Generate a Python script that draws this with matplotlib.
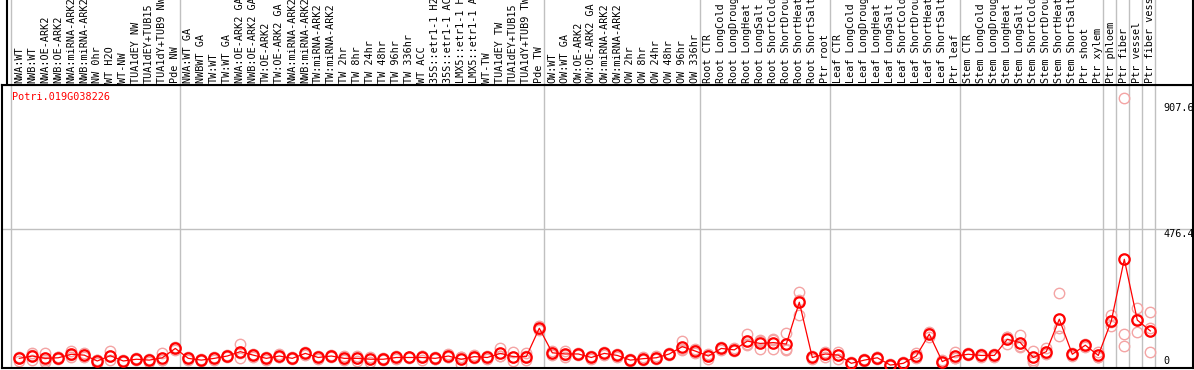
#!/usr/bin/env python3
# Perfil de expresion de Potri.019G038226 en 88 condiciones.

import numpy as np
import matplotlib
matplotlib.use("Agg")
import matplotlib.pyplot as plt

gene = "Potri.019G038226"

labels = [
    "NWA:WT", "NWB:WT", "NWA:OE-ARK2", "NWB:OE-ARK2", "NWA:miRNA-ARK2", "NWB:miRNA-ARK2",
    "NW 0hr", "WT H2O", "WT-NW", "TUA1dEY NW", "TUA1dEY+TUB15", "TUA1dY+TUB9 NW", "Pde NW",
    "NWA:WT GA", "NWBWT GA", "TW:WT", "TW:WT GA", "NWA:OE-ARK2 GA", "NWB:OE-ARK2 GA",
    "TW:OE-ARK2", "TW:OE-ARK2 GA", "NWA:miRNA-ARK2", "NWB:miRNA-ARK2", "TW:miRNA-ARK2",
    "TW:miRNA-ARK2", "TW 2hr", "TW 8hr", "TW 24hr", "TW 48hr", "TW 96hr", "TW 336hr",
    "WT ACC", "35S::etr1-1 H2", "35S::etr1-1 AC", "LMX5::etr1-1 H", "LMX5::etr1-1 A",
    "WT-TW", "TUA1dEY TW", "TUA1dEY+TUB15", "TUA1dY+TUB9 TW", "Pde TW",
    "OW:WT", "OW:WT GA", "OW:OE-ARK2", "OW:OE-ARK2 GA", "OW:miRNA-ARK2", "OW:miRNA-ARK2",
    "OW 2hr", "OW 8hr", "OW 24hr", "OW 48hr", "OW 96hr", "OW 336hr",
    "Root CTR", "Root LongCold", "Root LongDroug", "Root LongHeat", "Root LongSalt",
    "Root ShortCold", "Root ShortDrou", "Root ShortHeat", "Root ShortSalt", "Ptr root",
    "Leaf CTR", "Leaf LongCold", "Leaf LongDroug", "Leaf LongHeat", "Leaf LongSalt",
    "Leaf ShortCold", "Leaf ShortDrou", "Leaf ShortHeat", "Leaf ShortSalt", "Ptr leaf",
    "Stem CTR", "Stem LongCold", "Stem LongDroug", "Stem LongHeat", "Stem LongSalt",
    "Stem ShortCold", "Stem ShortDrou", "Stem ShortHeat", "Stem ShortSalt", "Ptr shoot",
    "Ptr xylem", "Ptr phloem", "Ptr fiber", "Ptr vessel", "Ptr fiber vess",
]
group_sizes = [13, 28, 12, 10, 10, 11, 1, 1, 1, 1]

means = [33, 41, 33, 35, 47, 44, 24, 42, 24, 30, 27, 35, 67,
         33, 27, 33, 41, 56, 44, 33, 41, 33, 50, 36, 41, 33, 33, 30, 30, 36, 36, 36, 33, 41,
         30, 39, 36, 50, 39, 39, 136,
         52, 48, 48, 36, 50, 43, 27, 32, 35, 48, 73, 58,
         41, 67, 62, 92, 84, 87, 82, 225, 36, 48,
         44, 16, 27, 35, 10, 16, 41, 116, 22, 41,
         47, 43, 43, 98, 87, 36, 56, 167, 47, 78, 43,
         161, 372, 164, 127]
rep1 = [39, 52, 50, 38, 58, 50, 28, 59, 27, 33, 32, 50, 72,
        38, 30, 37, 46, 82, 49, 36, 48, 36, 55, 40, 45, 41, 40, 36, 33, 41, 39, 40, 37, 48,
        39, 43, 40, 67, 56, 50, 144,
        58, 59, 52, 40, 55, 47, 31, 36, 40, 53, 92, 64,
        46, 72, 67, 116, 96, 96, 119, 261, 40, 36,
        56, 20, 31, 39, 14, 20, 52, 124, 27, 56,
        51, 47, 47, 106, 113, 59, 70, 256, 52, 83, 56,
        181, 923, 204, 191]
rep2 = [25, 27, 27, 30, 39, 36, 16, 27, 21, 27, 22, 27, 62,
        28, 24, 29, 36, 33, 39, 28, 36, 30, 45, 32, 37, 27, 25, 22, 27, 30, 33, 27, 30, 36,
        13, 35, 32, 41, 36, 27, 130,
        45, 39, 44, 30, 45, 39, 23, 28, 30, 43, 62, 50,
        30, 62, 57, 82, 64, 65, 62, 181, 32, 55,
        30, 12, 23, 30, 6, 12, 33, 105, 17, 33,
        43, 39, 36, 82, 75, 22, 50, 136, 40, 73, 36,
        144, 115, 122, 54]
rep3 = [35, 44, 22, 37, 44, 46, 28, 40, 24, 30, 27, 28, 67,
        33, 27, 33, 41, 53, 44, 35, 39, 33, 50, 36, 41, 31, 34, 32, 30, 37, 36, 41, 32, 39,
        38, 39, 36, 42, 25, 40, 134,
        53, 46, 48, 38, 50, 43, 27, 32, 35, 48, 65, 60,
        47, 67, 62, 78, 92, 100, 65, 233, 36, 53,
        46, 16, 27, 36, 10, 16, 38, 119, 22, 34,
        47, 43, 46, 106, 73, 27, 48, 111, 49, 78, 37,
        158, 76, 166, 136]

yticks = [0, 476.4, 907.6]
gridline = 476.4

W, H = 1194, 370
x = np.arange(len(labels))
# pixel -> indice: x_px = 19.3 + 13*i
xlim = ((2 - 19.3) / 13, (1193 - 19.3) / 13)
ymax = (368 - 85) * 3.422
starts = np.concatenate([[0], np.cumsum(group_sizes)]) - 8 / 13

fig = plt.figure(figsize=(W / 100, H / 100), dpi=100)
ax = fig.add_axes([2 / W, 2 / H, 1191 / W, 283 / H])
axl = fig.add_axes([2 / W, 285 / H, 1191 / W, 85 / H])

grey = "#c0c0c0"
for a in (ax, axl):
    a.set_xlim(*xlim)
    a.set_xticks([])
    a.set_yticks([])
    for s in starts:
        a.axvline(s, color=grey, lw=1.0, zorder=0)

ax.set_ylim(0, ymax)
ax.axhline(gridline, color=grey, lw=1.0, zorder=0)
for sp in ax.spines.values():
    sp.set_linewidth(1.5)

light = "#f4a4a4"
for r in (rep1, rep2, rep3):
    ax.plot(x, r, ls="none", marker="o", ms=7.5, mfc="none", mec=light, mew=1.0, zorder=2)
ax.plot(x, means, color="red", lw=0.9, marker="o", ms=7.5, mfc="none", mec="red", mew=1.6, zorder=3)

mono = "DejaVu Sans Mono"
ax.text(10 / 1191, (368 - 97) / 283, gene, transform=ax.transAxes, color="red",
        family=mono, fontsize=7.3, va="center", ha="left")
tx = (1163 - 2) / 1191
for v in yticks[1:]:
    ax.text(tx, v, f"{v:g}", transform=ax.get_yaxis_transform(), family=mono,
            fontsize=7.3, va="top", ha="left")
ax.text(tx, 6, "0", transform=ax.get_yaxis_transform(), family=mono,
        fontsize=7.3, va="bottom", ha="left")

axl.set_ylim(0, 85)
axl.spines["top"].set_visible(False)
axl.spines["left"].set_visible(False)
axl.spines["right"].set_linewidth(1.5)
axl.spines["bottom"].set_linewidth(1.5)
axl.axvline((7 - 19.3) / 13, color="black", lw=1.5)
for i, lab in enumerate(labels):
    axl.text(i, 2, lab, rotation=90, family=mono, fontsize=7.3,
             ha="center", va="bottom", clip_on=False)

fig.savefig("out.png", dpi=100)
